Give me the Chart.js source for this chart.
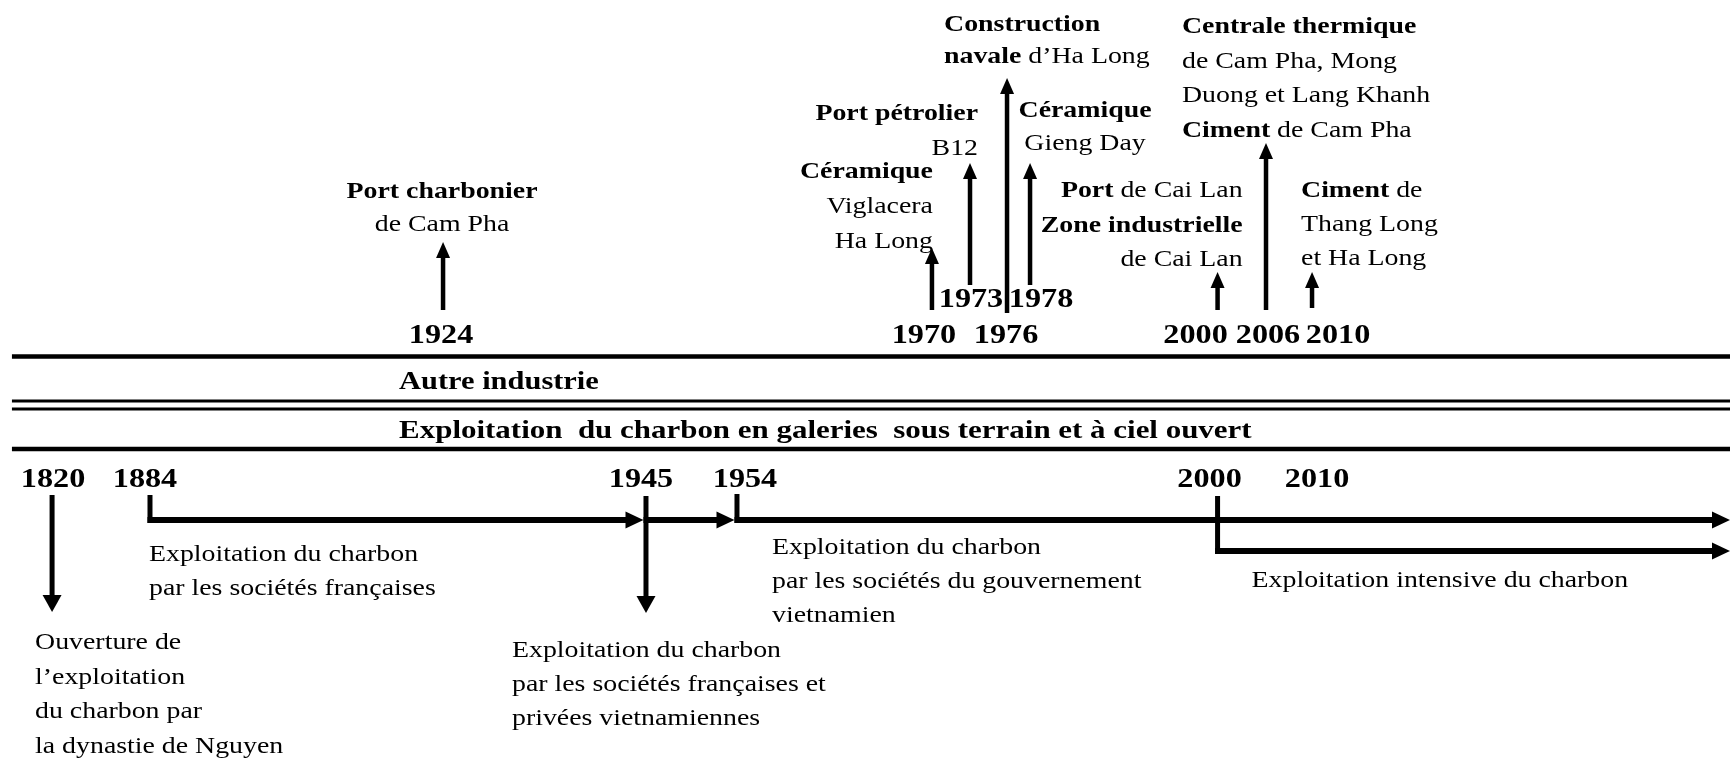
<!DOCTYPE html>
<html>
<head>
<meta charset="utf-8">
<script src="https://cdn.jsdelivr.net/npm/chart.js@4/dist/chart.umd.min.js"></script>
<style>
html,body{margin:0;padding:0;background:#fff;}
#wrap{width:1730px;height:761px;position:relative;}
</style>
</head>
<body>
<div id="wrap"><canvas id="c"></canvas></div>
<script>
// ---------------- DATA ----------------
// Upper timeline: "Autre industrie"
const topYears = [1924, 1970, 1973, 1976, 1978, 2000, 2006, 2010];
const topLabels = [
  ['**Port charbonier**', 'de Cam Pha'],
  ['**Céramique**', 'Viglacera', 'Ha Long'],
  ['**Port pétrolier**', 'B12'],
  ['**Construction**', '**navale** d’Ha Long'],
  ['**Céramique**', 'Gieng Day'],
  ['**Port** de Cai Lan', '**Zone industrielle**', 'de Cai Lan'],
  ['**Centrale thermique**', 'de Cam Pha, Mong', 'Duong et Lang Khanh', '**Ciment** de Cam Pha'],
  ['**Ciment** de', 'Thang Long', 'et Ha Long']
];
// Lower timeline: coal exploitation
const bottomYears = [1820, 1884, 1945, 1954, 2000, 2010];
const bottomLabels = [
  ['Ouverture de', 'l’exploitation', 'du charbon par', 'la dynastie de Nguyen'],
  ['Exploitation du charbon', 'par les sociétés françaises'],
  ['Exploitation du charbon', 'par les sociétés françaises et', 'privées vietnamiennes'],
  ['Exploitation du charbon', 'par les sociétés du gouvernement', 'vietnamien'],
  ['Exploitation intensive du charbon'],
  []
];
// Periods (null end = still ongoing)
const periodStarts = [1884, 1945, 1954, 2000];
const periodEnds   = [1945, 1954, null, null];
const periodRows   = [0, 0, 0, 1];
const bandTitles = ['Autre industrie', 'Exploitation  du charbon en galeries  sous terrain et à ciel ouvert'];

// ---------------- LAYOUT / STYLE ----------------
const FONT = '"Liberation Serif", "Times New Roman", serif';
const layout = {
  xMin: 1786, xMax: 2030, ruleStart: 1794, titleYear: 1918,
  // schematic (non-linear) placement of years along the axis: [year, fraction of width]
  anchors: [[1794,0.0069],[1820,0.0301],[1884,0.0867],[1924,0.2561],[1945,0.3734],[1954,0.4260],
            [1970,0.5387],[1973,0.5607],[1976,0.5821],[1978,0.5954],[2000,0.7038],[2006,0.7318],
            [2010,0.7584],[2030,1.0]],
  rules: [{y:356.5,w:4.6},{y:401,w:3.2},{y:409,w:3.2},{y:449,w:4.4}],
  titleBaselines: [389, 438],
  titleStretch: [1.17, 1.19],
  rows: [520, 551],
  bottomYearBaseline: 487
};
const topLayout = [
  {tip:242, base:310, last:231, lh:33,   align:'center', dx:-1,  ydx:-2,  ybl:343},
  {tip:248, base:310, last:248, lh:35,   align:'right',  dx:1,   ydx:-8,  ybl:343},
  {tip:163, base:285, last:155, lh:35,   align:'right',  dx:8,   ydx:1,   ybl:307},
  {tip:78,  base:313, last:63,  lh:32,   align:'left',   dx:-63, ydx:-1,  ybl:343},
  {tip:163, base:285, last:150, lh:33,   align:'center', dx:55,  ydx:11,  ybl:307},
  {tip:272, base:310, last:266, lh:34.5, align:'right',  dx:25,  ydx:-22, ybl:343},
  {tip:143, base:310, last:137, lh:34.7, align:'left',   dx:-84, ydx:2,   ybl:343},
  {tip:272, base:308, last:265, lh:34,   align:'left',   dx:-11, ydx:26,  ybl:343}
];
const bottomLayout = [
  {mark:'down',    y0:495, y1:612, dx:-17,  first:649, lh:34.7, ydx:1},
  {mark:'bracket', y0:495, row:0,  dx:-1,   first:561, lh:34,   ydx:-5},
  {mark:'down',    y0:496, y1:613, dx:-134, first:657, lh:34,   ydx:-5},
  {mark:'bracket', y0:494, row:0,  dx:35,   first:554, lh:34,   ydx:8},
  {mark:'bracket', y0:496, row:1,  dx:34,   first:587, lh:34,   ydx:-8},
  {mark:'none',    ydx:5}
];

// ---------------- custom piecewise timeline scale ----------------
class TimelineScale extends Chart.LinearScale {
  _frac(v) {
    const a = this.options.anchors, n = a.length;
    let i = 0;
    if (v <= a[0][0]) i = 0;
    else if (v >= a[n-1][0]) i = n - 2;
    else { while (i < n - 2 && v > a[i+1][0]) i++; }
    return a[i][1] + (v - a[i][0]) * (a[i+1][1] - a[i][1]) / (a[i+1][0] - a[i][0]);
  }
  getPixelForValue(v) { return this.left + this._frac(v) * this.width; }
  getValueForPixel(p) {
    const f = (p - this.left) / this.width, a = this.options.anchors, n = a.length;
    let i = 0;
    while (i < n - 2 && f > a[i+1][1]) i++;
    return a[i][0] + (f - a[i][1]) * (a[i+1][0] - a[i][0]) / (a[i+1][1] - a[i][1]);
  }
}
TimelineScale.id = 'timeline';
TimelineScale.defaults = Chart.LinearScale.defaults;
Chart.register(TimelineScale);

// ---------------- drawing helpers ----------------
function drawRich(ctx, s, x, y, align, size, allBold, sx) {
  const segs = [];
  s.split('**').forEach((p, i) => { if (p) segs.push({t:p, b: allBold || i % 2 === 1}); });
  let w = 0; const ws = [];
  segs.forEach(sg => { ctx.font = (sg.b ? 'bold ' : '') + size + 'px ' + FONT; const m = ctx.measureText(sg.t).width; ws.push(m); w += m; });
  const x0 = align === 'left' ? x : (align === 'right' ? x - w * sx : x - w * sx / 2);
  ctx.save();
  ctx.translate(x0, y); ctx.scale(sx, 1);
  ctx.textAlign = 'left'; ctx.textBaseline = 'alphabetic'; ctx.fillStyle = '#000';
  let cx = 0;
  segs.forEach((sg, i) => { ctx.font = (sg.b ? 'bold ' : '') + size + 'px ' + FONT; ctx.fillText(sg.t, cx, 0); cx += ws[i]; });
  ctx.restore();
}
function arrowV(ctx, x, y0, y1, lw, hw, hl) {
  const d = Math.sign(y1 - y0);
  ctx.lineWidth = lw; ctx.lineCap = 'butt';
  ctx.beginPath(); ctx.moveTo(x, y0); ctx.lineTo(x, y1 - d * hl * 0.7); ctx.stroke();
  ctx.beginPath(); ctx.moveTo(x, y1); ctx.lineTo(x - hw / 2, y1 - d * hl); ctx.lineTo(x + hw / 2, y1 - d * hl); ctx.closePath(); ctx.fill();
}
function arrowH(ctx, x0, x1, y, lw, hw, hl) {
  ctx.lineWidth = lw; ctx.lineCap = 'butt';
  ctx.beginPath(); ctx.moveTo(x0, y); ctx.lineTo(x1 - hl * 0.7, y); ctx.stroke();
  ctx.beginPath(); ctx.moveTo(x1, y); ctx.lineTo(x1 - hl, y - hw / 2); ctx.lineTo(x1 - hl, y + hw / 2); ctx.closePath(); ctx.fill();
}

const timelinePlugin = {
  id: 'timeline',
  afterDatasetsDraw(chart) {
    const ctx = chart.ctx, xs = chart.scales.x, ys = chart.scales.y;
    const X = v => xs.getPixelForValue(v), Y = v => ys.getPixelForValue(v);
    ctx.save();
    ctx.strokeStyle = '#000'; ctx.fillStyle = '#000';
    const TXT = 24, TSX = 1.16, YR = 28, YSX = 1.15;

    // band titles
    bandTitles.forEach((t, i) => drawRich(ctx, t, X(layout.titleYear), Y(layout.titleBaselines[i]), 'left', 26, true, layout.titleStretch[i]));

    // upper timeline events
    topYears.forEach((yr, i) => {
      const L = topLayout[i], x = X(yr);
      arrowV(ctx, x, Y(L.base), Y(L.tip), 4.5, 14, 16);
      drawRich(ctx, String(yr), x + L.ydx, Y(L.ybl), 'center', YR, true, YSX);
      const lines = topLabels[i], n = lines.length;
      lines.forEach((ln, j) => drawRich(ctx, ln, x + L.dx, Y(L.last - (n - 1 - j) * L.lh), L.align, TXT, false, TSX));
    });

    // periods of coal exploitation
    periodStarts.forEach((s, i) => {
      const y = Y(layout.rows[periodRows[i]]);
      const x0 = X(s) - 2.5;
      const x1 = periodEnds[i] === null ? chart.chartArea.right : X(periodEnds[i]) - 2.5;
      arrowH(ctx, x0, x1, y, 6, 17, 18);
    });

    // lower timeline events
    bottomYears.forEach((yr, i) => {
      const L = bottomLayout[i], x = X(yr);
      drawRich(ctx, String(yr), x + L.ydx, Y(layout.bottomYearBaseline), 'center', YR, true, YSX);
      if (L.mark === 'down') arrowV(ctx, x, Y(L.y0), Y(L.y1), 5, 19, 17);
      if (L.mark === 'bracket') {
        ctx.lineWidth = 5; ctx.lineCap = 'butt';
        ctx.beginPath(); ctx.moveTo(x, Y(L.y0)); ctx.lineTo(x, Y(layout.rows[L.row]) + 3); ctx.stroke();
      }
      bottomLabels[i].forEach((ln, j) => drawRich(ctx, ln, x + L.dx, Y(L.first + j * L.lh), 'left', TXT, false, TSX));
    });
    ctx.restore();
  }
};

// horizontal band rules as line datasets
const ruleDatasets = layout.rules.map(r => ({
  data: [{x: layout.ruleStart, y: r.y}, {x: layout.xMax, y: r.y}],
  showLine: true, borderColor: '#000', borderWidth: r.w, pointRadius: 0,
  borderCapStyle: 'butt', fill: false, clip: false
}));

new Chart(document.getElementById('c'), {
  type: 'scatter',
  data: { datasets: ruleDatasets },
  options: {
    responsive: true, maintainAspectRatio: false, animation: false, events: [],
    devicePixelRatio: 1,
    layout: { padding: 0 },
    plugins: { legend: {display: false}, tooltip: {enabled: false}, title: {display: false} },
    scales: {
      x: { type: 'timeline', min: layout.xMin, max: layout.xMax, anchors: layout.anchors, display: false },
      y: { type: 'linear', min: 0, max: 761, reverse: true, display: false }
    }
  },
  plugins: [timelinePlugin]
});
</script>
</body>
</html>
